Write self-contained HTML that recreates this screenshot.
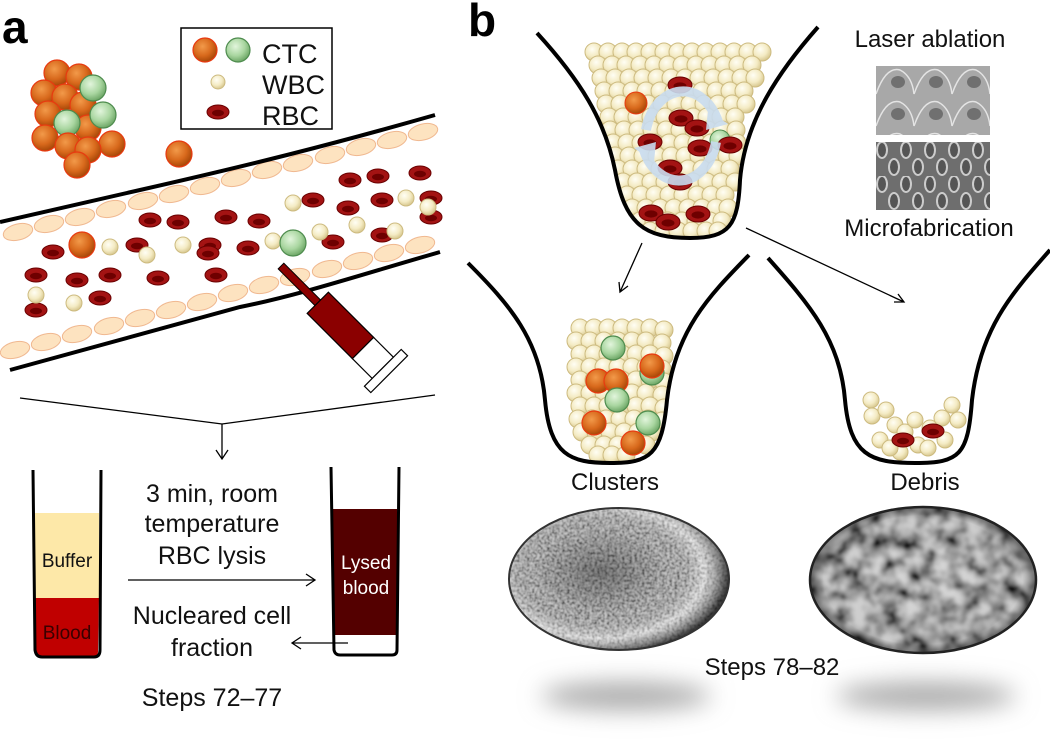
<!DOCTYPE html>
<html><head><meta charset="utf-8"><style>
html,body{margin:0;padding:0;background:#fff}
svg{display:block}
text{font-family:"Liberation Sans",Arial,sans-serif;fill:#111}
</style></head><body>
<svg width="1050" height="739" viewBox="0 0 1050 739" xmlns="http://www.w3.org/2000/svg" xmlns:xlink="http://www.w3.org/1999/xlink">
<defs>
<radialGradient id="gOr" cx="40%" cy="35%" r="65%"><stop offset="0" stop-color="#f29a4a"/><stop offset="0.6" stop-color="#d8691c"/><stop offset="1" stop-color="#a84808"/></radialGradient>
<radialGradient id="gGr" cx="40%" cy="35%" r="65%"><stop offset="0" stop-color="#e2f5dc"/><stop offset="0.6" stop-color="#a9d6a0"/><stop offset="1" stop-color="#6fa868"/></radialGradient>
<radialGradient id="gCr" cx="40%" cy="35%" r="65%"><stop offset="0" stop-color="#fffef4"/><stop offset="0.6" stop-color="#f4ebc4"/><stop offset="1" stop-color="#d8c890"/></radialGradient>
<circle id="cr" r="9" fill="url(#gCr)" stroke="#cdbb80" stroke-width="1"/>
<circle id="cr8" r="8" fill="url(#gCr)" stroke="#cdbb80" stroke-width="1"/>
<circle id="or" r="13" fill="url(#gOr)" stroke="#e83a10" stroke-width="1.2"/>
<circle id="gr" r="13" fill="url(#gGr)" stroke="#4e8c4e" stroke-width="1.2"/>
<circle id="or12" r="12" fill="url(#gOr)" stroke="#e83a10" stroke-width="1.2"/>
<circle id="gr12" r="12" fill="url(#gGr)" stroke="#4e8c4e" stroke-width="1.2"/>
<g id="rb"><ellipse rx="11" ry="7" fill="#a31313" stroke="#6a0000" stroke-width="1"/><ellipse cy="1" rx="6" ry="3.2" fill="#6e0000"/></g>
<g id="rb12"><ellipse rx="12" ry="8" fill="#a31313" stroke="#6a0000" stroke-width="1"/><ellipse cy="1" rx="6.5" ry="3.6" fill="#6e0000"/></g>
<ellipse id="vc" rx="15" ry="8" fill="#fde3c0" stroke="#f0b890" stroke-width="1"/>
<filter id="noiseA" x="0" y="0" width="1" height="1">
<feTurbulence type="fractalNoise" baseFrequency="0.4" numOctaves="2" seed="3"/>
<feColorMatrix type="matrix" values="2.2 0 0 0 -0.55  2.2 0 0 0 -0.55  2.2 0 0 0 -0.55  0 0 0 0 0.7"/>
<feGaussianBlur stdDeviation="0.5"/>
</filter>
<filter id="noiseB" x="0" y="0" width="1" height="1">
<feTurbulence type="fractalNoise" baseFrequency="0.06" numOctaves="3" seed="7"/>
<feColorMatrix type="matrix" values="2.3 0 0 0 -0.6  2.3 0 0 0 -0.6  2.3 0 0 0 -0.6  0 0 0 0 1"/>
<feGaussianBlur stdDeviation="1.5"/>
</filter>
<filter id="blur" x="-50%" y="-200%" width="200%" height="500%"><feGaussianBlur stdDeviation="12"/></filter>
<radialGradient id="ovA" cx="42%" cy="45%" r="58%"><stop offset="0" stop-color="#000" stop-opacity="0.4"/><stop offset="0.55" stop-color="#000" stop-opacity="0.1"/><stop offset="0.8" stop-color="#fff" stop-opacity="0.35"/><stop offset="1" stop-color="#000" stop-opacity="0.7"/></radialGradient>
<radialGradient id="ovB" cx="50%" cy="50%" r="55%"><stop offset="0" stop-color="#000" stop-opacity="0.15"/><stop offset="0.8" stop-color="#000" stop-opacity="0.2"/><stop offset="1" stop-color="#000" stop-opacity="0.8"/></radialGradient>
<clipPath id="cA"><ellipse cx="619" cy="579" rx="110" ry="71"/></clipPath>
<clipPath id="cB"><ellipse cx="923" cy="580" rx="113" ry="73"/></clipPath>
<pattern id="pMicro" x="876" y="142" width="24" height="34" patternUnits="userSpaceOnUse">
<ellipse cx="6" cy="8" rx="5" ry="8" fill="#555" stroke="#ccc" stroke-width="2"/>
<ellipse cx="18" cy="25" rx="5" ry="8" fill="#555" stroke="#ccc" stroke-width="2"/>
</pattern>
<pattern id="pLaser" x="876" y="66" width="38" height="32" patternUnits="userSpaceOnUse">
<rect width="38" height="32" fill="#a8a8a8"/>
<path d="M0,28 Q10,0 24,4 Q36,10 38,28" fill="none" stroke="#e4e4e4" stroke-width="1.5"/>
<ellipse cx="22" cy="16" rx="7" ry="6" fill="#707070"/>
</pattern>
<clipPath id="wTop"><path d="M537,33 C580,80 605,120 615,170 C625,225 645,238 690,238 C730,238 738,225 740,180 C745,120 780,70 818,27 Z"/></clipPath>
<clipPath id="wL"><path d="M468,263 C510,305 540,340 545,400 C550,455 570,463 610,463 C650,463 662,455 667,400 C675,330 710,295 749,255 Z"/></clipPath>
</defs>

<!-- Panel a -->
<text x="2" y="43" font-size="46" font-weight="bold" style="fill:#000">a</text>
<rect x="181" y="28" width="151" height="101" fill="#fff" stroke="#000" stroke-width="1.5"/>
<text x="262" y="63" font-size="27">CTC</text>
<text x="262" y="94" font-size="27">WBC</text>
<text x="262" y="125" font-size="27">RBC</text>
<use href="#or12" x="205" y="50"/><use href="#gr12" x="238" y="50"/>
<circle cx="218" cy="82" r="7" fill="url(#gCr)" stroke="#cdbb80"/>
<use href="#rb" x="218" y="112"/>

<use href="#or" x="57" y="73"/><use href="#or" x="79" y="77"/><use href="#or" x="44" y="93"/><use href="#or" x="65" y="97"/>
<use href="#or" x="83" y="105"/><use href="#gr" x="93" y="88"/><use href="#or" x="48" y="114"/><use href="#or" x="88" y="128"/>
<use href="#gr" x="67" y="123"/><use href="#gr" x="103" y="115"/><use href="#or" x="45" y="138"/><use href="#or" x="68" y="146"/>
<use href="#or" x="112" y="144"/><use href="#or" x="88" y="150"/><use href="#or" x="77" y="165"/>
<use href="#or" x="179" y="154"/>

<!-- vessel -->
<g>
<use href="#vc" transform="translate(18,232) rotate(-13.9)"/><use href="#vc" transform="translate(49,224) rotate(-13.9)"/><use href="#vc" transform="translate(80,217) rotate(-13.9)"/><use href="#vc" transform="translate(111,209) rotate(-13.9)"/><use href="#vc" transform="translate(143,201) rotate(-13.9)"/><use href="#vc" transform="translate(174,194) rotate(-13.9)"/><use href="#vc" transform="translate(205,186) rotate(-13.9)"/><use href="#vc" transform="translate(236,178) rotate(-13.9)"/><use href="#vc" transform="translate(267,170) rotate(-13.9)"/><use href="#vc" transform="translate(298,163) rotate(-13.9)"/><use href="#vc" transform="translate(330,155) rotate(-13.9)"/><use href="#vc" transform="translate(361,147) rotate(-13.9)"/><use href="#vc" transform="translate(392,140) rotate(-13.9)"/><use href="#vc" transform="translate(423,132) rotate(-13.9)"/>
<use href="#vc" transform="translate(15,350) rotate(-14.5)"/><use href="#vc" transform="translate(46,342) rotate(-14.5)"/><use href="#vc" transform="translate(77,334) rotate(-14.5)"/><use href="#vc" transform="translate(109,326) rotate(-14.5)"/><use href="#vc" transform="translate(140,318) rotate(-14.5)"/><use href="#vc" transform="translate(171,310) rotate(-14.5)"/><use href="#vc" transform="translate(202,302) rotate(-14.5)"/><use href="#vc" transform="translate(233,293) rotate(-14.5)"/><use href="#vc" transform="translate(264,285) rotate(-14.5)"/><use href="#vc" transform="translate(295,277) rotate(-14.5)"/><use href="#vc" transform="translate(327,269) rotate(-14.5)"/><use href="#vc" transform="translate(358,261) rotate(-14.5)"/><use href="#vc" transform="translate(389,253) rotate(-14.5)"/><use href="#vc" transform="translate(420,245) rotate(-14.5)"/>
</g>
<path d="M0,222 L140,190 C250,165 330,145 435,115" fill="none" stroke="#000" stroke-width="4"/>
<path d="M10,370 L240,307 C300,295 360,275 440,252" fill="none" stroke="#000" stroke-width="4"/>
<g>
<use href="#rb" x="350" y="180"/><use href="#rb" x="378" y="176"/><use href="#rb" x="420" y="173"/><use href="#rb" x="313" y="200"/><use href="#rb" x="348" y="208"/><use href="#rb" x="382" y="200"/><use href="#rb" x="150" y="220"/><use href="#rb" x="178" y="222"/><use href="#rb" x="226" y="217"/><use href="#rb" x="259" y="221"/><use href="#rb" x="53" y="252"/><use href="#rb" x="137" y="245"/><use href="#rb" x="210" y="245"/><use href="#rb" x="208" y="253"/><use href="#rb" x="248" y="248"/><use href="#rb" x="333" y="242"/><use href="#rb" x="382" y="235"/><use href="#rb" x="431" y="198"/><use href="#rb" x="431" y="217"/><use href="#rb" x="36" y="275"/><use href="#rb" x="77" y="280"/><use href="#rb" x="110" y="275"/><use href="#rb" x="158" y="278"/><use href="#rb" x="216" y="275"/><use href="#rb" x="100" y="298"/><use href="#rb" x="36" y="310"/>
<use href="#cr8" x="293" y="203"/><use href="#cr8" x="320" y="232"/><use href="#cr8" x="406" y="198"/><use href="#cr8" x="357" y="225"/><use href="#cr8" x="395" y="231"/><use href="#cr8" x="428" y="207"/><use href="#cr8" x="110" y="247"/><use href="#cr8" x="147" y="255"/><use href="#cr8" x="183" y="245"/><use href="#cr8" x="273" y="241"/><use href="#cr8" x="36" y="295"/><use href="#cr8" x="74" y="303"/>
<use href="#or" x="82" y="245"/><use href="#gr" x="293" y="243"/>
</g>

<!-- syringe -->
<g transform="translate(281,266) rotate(45)">
<rect x="0" y="-4" width="52" height="8" fill="#8b0000" stroke="#000" stroke-width="1"/>
<rect x="52" y="-15" width="64" height="30" fill="#8b0000" stroke="#000" stroke-width="1.2"/>
<rect x="116" y="-15" width="28" height="30" fill="#fff" stroke="#000" stroke-width="1.2"/>
<rect x="144" y="-26" width="9" height="52" fill="#fff" stroke="#000" stroke-width="1.2"/>
</g>

<path d="M20,398 L222,424 L435,395" fill="none" stroke="#000" stroke-width="1.3"/>
<path d="M222,424 L222,458 M216,450 L222,459 L228,450" fill="none" stroke="#000" stroke-width="1.3"/>

<rect x="35" y="513" width="64" height="85" fill="#fde8a8"/>
<path d="M35,598 L99,598 L98,652 Q98,656 93,656 L41,656 Q36,656 36,652 Z" fill="#c00000"/>
<path d="M33,470 L35,650 Q36,657 42,657 L94,657 Q100,657 100,650 L101,470" fill="none" stroke="#000" stroke-width="3"/>
<text x="67" y="567" font-size="19" text-anchor="middle">Buffer</text>
<text x="67" y="639" font-size="19" text-anchor="middle" style="fill:#3a0000">Blood</text>

<rect x="333" y="509" width="64" height="126" fill="#540000"/>
<path d="M331,467 L334,650 Q335,655 340,655 L392,655 Q397,655 397,650 L399,467" fill="none" stroke="#000" stroke-width="3"/>
<text x="366" y="569" font-size="19" text-anchor="middle" style="fill:#fff">Lysed</text>
<text x="366" y="594" font-size="19" text-anchor="middle" style="fill:#fff">blood</text>

<text x="212" y="502" font-size="25" text-anchor="middle">3 min, room</text>
<text x="212" y="532" font-size="25" text-anchor="middle">temperature</text>
<text x="212" y="564" font-size="25" text-anchor="middle">RBC lysis</text>
<path d="M128,580 L314,580 M306,574 L315,580 L306,586" fill="none" stroke="#000" stroke-width="1.3"/>
<text x="212" y="624" font-size="25" text-anchor="middle">Nucleared cell</text>
<text x="212" y="656" font-size="25" text-anchor="middle">fraction</text>
<path d="M348,643 L293,643 M301,637 L292,643 L301,649" fill="none" stroke="#000" stroke-width="1.3"/>
<text x="212" y="706" font-size="25" text-anchor="middle">Steps 72–77</text>

<!-- Panel b -->
<text x="468" y="36" font-size="46" font-weight="bold" style="fill:#000">b</text>
<g clip-path="url(#wTop)">
<use href="#cr" x="594" y="52"/><use href="#cr" x="608" y="52"/><use href="#cr" x="622" y="52"/><use href="#cr" x="636" y="52"/><use href="#cr" x="650" y="52"/><use href="#cr" x="664" y="52"/><use href="#cr" x="678" y="52"/><use href="#cr" x="692" y="52"/><use href="#cr" x="706" y="52"/><use href="#cr" x="720" y="52"/><use href="#cr" x="734" y="52"/><use href="#cr" x="748" y="52"/><use href="#cr" x="762" y="52"/>
<use href="#cr" x="598" y="65"/><use href="#cr" x="612" y="65"/><use href="#cr" x="626" y="65"/><use href="#cr" x="640" y="65"/><use href="#cr" x="654" y="65"/><use href="#cr" x="668" y="65"/><use href="#cr" x="682" y="65"/><use href="#cr" x="696" y="65"/><use href="#cr" x="710" y="65"/><use href="#cr" x="724" y="65"/><use href="#cr" x="738" y="65"/><use href="#cr" x="752" y="65"/>
<use href="#cr" x="601" y="78"/><use href="#cr" x="615" y="78"/><use href="#cr" x="629" y="78"/><use href="#cr" x="643" y="78"/><use href="#cr" x="657" y="78"/><use href="#cr" x="671" y="78"/><use href="#cr" x="685" y="78"/><use href="#cr" x="699" y="78"/><use href="#cr" x="713" y="78"/><use href="#cr" x="727" y="78"/><use href="#cr" x="741" y="78"/><use href="#cr" x="755" y="78"/>
<use href="#cr" x="604" y="91"/><use href="#cr" x="618" y="91"/><use href="#cr" x="632" y="91"/><use href="#cr" x="646" y="91"/><use href="#cr" x="660" y="91"/><use href="#cr" x="674" y="91"/><use href="#cr" x="688" y="91"/><use href="#cr" x="702" y="91"/><use href="#cr" x="716" y="91"/><use href="#cr" x="730" y="91"/><use href="#cr" x="744" y="91"/>
<use href="#cr" x="606" y="104"/><use href="#cr" x="620" y="104"/><use href="#cr" x="634" y="104"/><use href="#cr" x="648" y="104"/><use href="#cr" x="662" y="104"/><use href="#cr" x="676" y="104"/><use href="#cr" x="690" y="104"/><use href="#cr" x="704" y="104"/><use href="#cr" x="718" y="104"/><use href="#cr" x="732" y="104"/><use href="#cr" x="746" y="104"/>
<use href="#cr" x="609" y="117"/><use href="#cr" x="623" y="117"/><use href="#cr" x="637" y="117"/><use href="#cr" x="651" y="117"/><use href="#cr" x="665" y="117"/><use href="#cr" x="679" y="117"/><use href="#cr" x="693" y="117"/><use href="#cr" x="707" y="117"/><use href="#cr" x="721" y="117"/><use href="#cr" x="735" y="117"/>
<use href="#cr" x="610" y="130"/><use href="#cr" x="624" y="130"/><use href="#cr" x="638" y="130"/><use href="#cr" x="652" y="130"/><use href="#cr" x="666" y="130"/><use href="#cr" x="680" y="130"/><use href="#cr" x="694" y="130"/><use href="#cr" x="708" y="130"/><use href="#cr" x="722" y="130"/><use href="#cr" x="736" y="130"/>
<use href="#cr" x="613" y="143"/><use href="#cr" x="627" y="143"/><use href="#cr" x="641" y="143"/><use href="#cr" x="655" y="143"/><use href="#cr" x="669" y="143"/><use href="#cr" x="683" y="143"/><use href="#cr" x="697" y="143"/><use href="#cr" x="711" y="143"/><use href="#cr" x="725" y="143"/><use href="#cr" x="737" y="143"/>
<use href="#cr" x="615" y="156"/><use href="#cr" x="629" y="156"/><use href="#cr" x="643" y="156"/><use href="#cr" x="657" y="156"/><use href="#cr" x="671" y="156"/><use href="#cr" x="685" y="156"/><use href="#cr" x="699" y="156"/><use href="#cr" x="713" y="156"/><use href="#cr" x="727" y="156"/><use href="#cr" x="738" y="156"/>
<use href="#cr" x="618" y="169"/><use href="#cr" x="632" y="169"/><use href="#cr" x="646" y="169"/><use href="#cr" x="660" y="169"/><use href="#cr" x="674" y="169"/><use href="#cr" x="688" y="169"/><use href="#cr" x="702" y="169"/><use href="#cr" x="716" y="169"/><use href="#cr" x="730" y="169"/>
<use href="#cr" x="623" y="182"/><use href="#cr" x="637" y="182"/><use href="#cr" x="651" y="182"/><use href="#cr" x="665" y="182"/><use href="#cr" x="679" y="182"/><use href="#cr" x="693" y="182"/><use href="#cr" x="707" y="182"/><use href="#cr" x="721" y="182"/><use href="#cr" x="735" y="182"/>
<use href="#cr" x="627" y="195"/><use href="#cr" x="641" y="195"/><use href="#cr" x="655" y="195"/><use href="#cr" x="669" y="195"/><use href="#cr" x="683" y="195"/><use href="#cr" x="697" y="195"/><use href="#cr" x="711" y="195"/><use href="#cr" x="725" y="195"/>
<use href="#cr" x="632" y="208"/><use href="#cr" x="646" y="208"/><use href="#cr" x="660" y="208"/><use href="#cr" x="674" y="208"/><use href="#cr" x="688" y="208"/><use href="#cr" x="702" y="208"/><use href="#cr" x="716" y="208"/><use href="#cr" x="728" y="208"/>
<use href="#cr" x="640" y="221"/><use href="#cr" x="654" y="221"/><use href="#cr" x="668" y="221"/><use href="#cr" x="682" y="221"/><use href="#cr" x="696" y="221"/><use href="#cr" x="710" y="221"/><use href="#cr" x="722" y="221"/>
<use href="#cr" x="650" y="231"/><use href="#cr" x="664" y="231"/><use href="#cr" x="678" y="231"/><use href="#cr" x="692" y="231"/><use href="#cr" x="706" y="231"/><use href="#cr" x="718" y="231"/>
<circle cx="636" cy="103" r="11" fill="url(#gOr)" stroke="#e83a10"/><circle cx="720" cy="140" r="10" fill="url(#gGr)" stroke="#4e8c4e"/>
<use href="#rb12" x="680" y="85"/><use href="#rb12" x="681" y="118"/><use href="#rb12" x="650" y="142"/><use href="#rb12" x="697" y="128"/><use href="#rb12" x="700" y="148"/><use href="#rb12" x="730" y="145"/><use href="#rb12" x="670" y="168"/><use href="#rb12" x="680" y="182"/><use href="#rb12" x="651" y="213"/><use href="#rb12" x="668" y="222"/><use href="#rb12" x="698" y="214"/>
</g>
<g opacity="0.9">
<path d="M646,130 A38,50 0 0 1 718,122" fill="none" stroke="#c9dcef" stroke-width="10"/>
<path d="M716,142 A38,50 0 0 1 644,150" fill="none" stroke="#c9dcef" stroke-width="10"/>
<path d="M708,110 L728,124 L706,130 Z" fill="#c9dcef"/>
<path d="M654,162 L634,148 L656,142 Z" fill="#c9dcef"/>
</g>
<path d="M537,33 C580,80 605,120 615,170 C625,225 645,238 690,238 C730,238 738,225 740,180 C745,120 780,70 818,27" fill="none" stroke="#000" stroke-width="4"/>

<text x="930" y="47" font-size="24" text-anchor="middle">Laser ablation</text>
<rect x="876" y="66" width="114" height="69" fill="url(#pLaser)"/>
<rect x="876" y="142" width="114" height="68" fill="#6e6e6e"/>
<rect x="876" y="142" width="114" height="68" fill="url(#pMicro)"/>
<text x="929" y="236" font-size="24" text-anchor="middle">Microfabrication</text>

<path d="M642,243 L620,292 M619,282 L620,292 L628,286" fill="none" stroke="#000" stroke-width="1.3"/>
<path d="M746,228 L904,302 M894,302 L904,302 L898,294" fill="none" stroke="#000" stroke-width="1.3"/>

<g clip-path="url(#wL)">
<use href="#cr" x="580" y="328"/><use href="#cr" x="594" y="328"/><use href="#cr" x="608" y="328"/><use href="#cr" x="622" y="328"/><use href="#cr" x="636" y="328"/><use href="#cr" x="650" y="328"/><use href="#cr" x="664" y="330"/>
<use href="#cr" x="576" y="341"/><use href="#cr" x="590" y="341"/><use href="#cr" x="604" y="341"/><use href="#cr" x="618" y="341"/><use href="#cr" x="632" y="341"/><use href="#cr" x="646" y="341"/><use href="#cr" x="662" y="343"/>
<use href="#cr" x="580" y="354"/><use href="#cr" x="594" y="354"/><use href="#cr" x="608" y="354"/><use href="#cr" x="622" y="354"/><use href="#cr" x="636" y="354"/><use href="#cr" x="650" y="354"/><use href="#cr" x="664" y="356"/>
<use href="#cr" x="576" y="367"/><use href="#cr" x="590" y="367"/><use href="#cr" x="604" y="367"/><use href="#cr" x="618" y="367"/><use href="#cr" x="632" y="367"/><use href="#cr" x="646" y="367"/><use href="#cr" x="662" y="369"/>
<use href="#cr" x="580" y="380"/><use href="#cr" x="594" y="380"/><use href="#cr" x="608" y="380"/><use href="#cr" x="622" y="380"/><use href="#cr" x="636" y="380"/><use href="#cr" x="650" y="380"/><use href="#cr" x="664" y="382"/>
<use href="#cr" x="576" y="393"/><use href="#cr" x="590" y="393"/><use href="#cr" x="604" y="393"/><use href="#cr" x="618" y="393"/><use href="#cr" x="632" y="393"/><use href="#cr" x="646" y="393"/><use href="#cr" x="662" y="395"/>
<use href="#cr" x="580" y="406"/><use href="#cr" x="594" y="406"/><use href="#cr" x="608" y="406"/><use href="#cr" x="622" y="406"/><use href="#cr" x="636" y="406"/><use href="#cr" x="650" y="406"/><use href="#cr" x="664" y="408"/>
<use href="#cr" x="578" y="419"/><use href="#cr" x="592" y="419"/><use href="#cr" x="606" y="419"/><use href="#cr" x="620" y="419"/><use href="#cr" x="634" y="419"/><use href="#cr" x="648" y="419"/><use href="#cr" x="662" y="421"/>
<use href="#cr" x="582" y="432"/><use href="#cr" x="596" y="432"/><use href="#cr" x="610" y="432"/><use href="#cr" x="624" y="432"/><use href="#cr" x="638" y="432"/><use href="#cr" x="652" y="432"/>
<use href="#cr" x="590" y="445"/><use href="#cr" x="604" y="445"/><use href="#cr" x="618" y="445"/><use href="#cr" x="632" y="445"/><use href="#cr" x="646" y="445"/>
<use href="#cr" x="598" y="455"/><use href="#cr" x="612" y="455"/><use href="#cr" x="626" y="455"/>
<use href="#gr12" x="613" y="348"/><use href="#gr12" x="652" y="373"/><use href="#or12" x="598" y="381"/><use href="#or12" x="616" y="381"/><use href="#or12" x="652" y="366"/><use href="#gr12" x="617" y="400"/><use href="#gr12" x="648" y="423"/><use href="#or12" x="594" y="423"/><use href="#or12" x="633" y="443"/>
</g>

<use href="#cr8" x="871" y="400"/><use href="#cr8" x="872" y="416"/><use href="#cr8" x="886" y="410"/><use href="#cr8" x="895" y="425"/><use href="#cr8" x="880" y="440"/><use href="#cr8" x="905" y="432"/><use href="#cr8" x="918" y="445"/><use href="#cr8" x="930" y="428"/><use href="#cr8" x="942" y="418"/><use href="#cr8" x="952" y="405"/><use href="#cr8" x="958" y="420"/><use href="#cr8" x="915" y="420"/><use href="#cr8" x="928" y="448"/><use href="#cr8" x="945" y="440"/><use href="#cr8" x="900" y="452"/><use href="#cr8" x="890" y="448"/>
<use href="#rb" x="903" y="440"/><use href="#rb" x="933" y="431"/>

<path d="M468,263 C510,305 540,340 545,400 C550,455 570,463 610,463 C650,463 662,455 667,400 C675,330 710,295 749,255" fill="none" stroke="#000" stroke-width="4"/>
<path d="M768,258 C810,305 840,340 845,400 C850,455 870,463 915,463 C960,463 968,455 972,400 C980,330 1010,295 1050,250" fill="none" stroke="#000" stroke-width="4"/>

<text x="615" y="490" font-size="24" text-anchor="middle">Clusters</text>
<text x="925" y="490" font-size="24" text-anchor="middle">Debris</text>

<ellipse cx="626" cy="696" rx="85" ry="14" fill="#aaa" filter="url(#blur)"/>
<ellipse cx="926" cy="696" rx="90" ry="14" fill="#aaa" filter="url(#blur)"/>

<ellipse cx="619" cy="579" rx="110" ry="71" fill="#9a9a9a"/>
<rect x="505" y="505" width="230" height="150" filter="url(#noiseA)" clip-path="url(#cA)"/>
<ellipse cx="619" cy="579" rx="110" ry="71" fill="url(#ovA)"/>
<ellipse cx="619" cy="579" rx="110" ry="71" fill="none" stroke="#333" stroke-width="2"/>
<ellipse cx="923" cy="580" rx="113" ry="73" fill="#bbb"/>
<rect x="805" y="505" width="236" height="150" filter="url(#noiseB)" clip-path="url(#cB)"/>
<ellipse cx="923" cy="580" rx="113" ry="73" fill="url(#ovB)"/>
<ellipse cx="923" cy="580" rx="113" ry="73" fill="none" stroke="#222" stroke-width="2.5"/>

<text x="772" y="675" font-size="24" text-anchor="middle">Steps 78–82</text>
</svg>
</body></html>
